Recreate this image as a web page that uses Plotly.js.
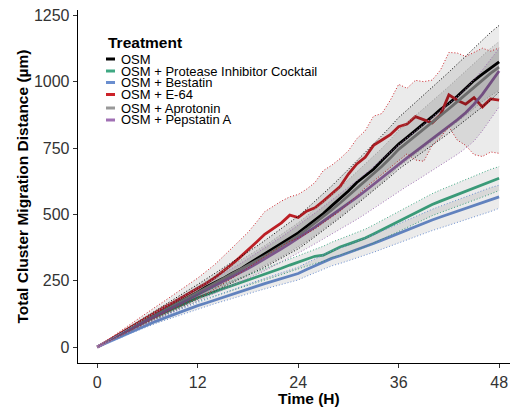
<!DOCTYPE html>
<html>
<head>
<meta charset="utf-8">
<script src="https://cdn.plot.ly/plotly-3.0.1.min.js"></script>
<style>html,body{margin:0;padding:0;background:#fff;}#chart{width:511px;height:408px;}</style>
</head>
<body>
<div id="chart"></div>
<script>
// ---------- data ----------
const hours = [0,1,2,3,4,5,6,7,8,9,10,11,12,13,14,15,16,17,18,19,20,21,22,23,24,25,26,27,28,29,30,31,32,33,34,35,36,37,38,39,40,41,42,43,44,45,46,47,48];
const seriesNames = ["OSM","OSM + Protease Inhibitor Cocktail","OSM + Bestatin","OSM + E-64","OSM + Aprotonin","OSM + Pepstatin A"];

const osm    = [0,17,34,52,70,88,105,122,139,156,173,190,207,226,241,258,276,292,312,331,350,372,390,410,430,455,480,503,532,560,588,620,646,670,703,733,765,790,815,842,868,896,918,945,973,1004,1028,1052,1075];
const osmHi  = [0,20,39,59,79,99,119,138,158,178,197,217,236,256,276,296,316,336,357,379,401,424,447,470,493,521,549,578,607,638,669,701,733,764,797,830,865,893,921,951,980,1008,1036,1066,1097,1127,1158,1186,1212];
const osmLo  = [0,14,29,45,61,77,92,107,121,136,150,165,180,194,209,224,239,254,269,285,301,318,335,352,370,392,415,438,462,487,512,538,564,588,615,642,670,692,714,738,761,783,806,830,855,880,905,930,962];

const pic    = [0,16,30,48,66,84,102,116,130,145,160,174,186,197,208,219,230,241,251,262,274,285,297,309,320,330,342,346,362,377,388,399,411,426,442,457,473,489,505,520,537,550,562,575,588,600,612,624,636];
const picHi  = [0,18,34,53,72,91,110,125,140,156,172,187,200,212,224,236,248,260,271,283,296,308,321,334,346,358,370,380,395,407,419,431,444,460,477,493,510,527,544,560,578,592,605,619,633,646,658,670,680];
const picLo  = [0,14,26,43,60,77,94,107,120,134,148,161,172,182,192,202,212,222,231,241,252,262,273,284,294,305,315,322,336,346,356,366,377,391,406,420,435,450,465,479,495,507,518,530,542,553,565,577,590];

const bes    = [0,14,27,42,57,71,85,97,109,121,133,145,156,166,177,188,198,209,219,229,239,249,258,268,277,292,306,320,334,344,355,366,378,390,403,416,429,441,454,466,479,490,501,512,523,534,545,556,566];
const besHi  = [0,16,30,46,62,77,92,105,118,131,144,157,168,179,191,203,214,226,237,248,259,270,280,291,301,317,332,347,362,373,385,397,410,423,437,451,465,478,492,505,519,531,543,555,567,579,591,601,610];
const besLo  = [0,12,24,38,52,65,78,89,100,111,122,133,144,153,163,173,182,192,201,210,219,228,236,245,253,267,280,293,306,315,325,335,346,357,369,381,393,404,416,427,439,449,459,469,479,489,499,511,523];

const e64    = [0,19,38,56,76,95,114,132,150,167,185,202,220,240,261,285,310,337,365,395,425,445,468,497,488,512,525,550,578,605,652,690,715,760,780,800,830,840,868,855,845,875,950,930,915,940,905,935,930];
const e64Hi  = [0,22,44,66,89,110,131,152,173,194,215,237,260,285,310,340,370,400,432,470,510,530,550,566,575,595,620,665,685,710,740,785,815,870,880,930,990,975,1005,1000,1006,1044,1110,1108,1095,1110,1126,1115,1127];
const e64Lo  = [0,16,32,47,63,80,97,113,128,142,157,171,185,200,218,237,257,277,298,320,342,362,380,398,410,428,445,468,490,512,540,572,600,625,650,675,700,728,705,700,760,790,830,780,760,725,718,735,730];

const apr    = [0,17,34,51,69,86,103,120,137,154,171,188,204,221,238,255,272,289,306,324,342,361,380,400,420,443,467,492,517,543,570,597,624,652,681,712,745,770,795,821,846,872,898,925,952,980,1008,1032,1055];
const aprHi  = [0,19,38,57,77,96,115,134,153,172,191,210,228,247,266,285,304,323,342,362,382,403,424,446,468,493,519,546,573,601,630,659,688,718,749,782,817,844,871,899,926,954,982,1011,1040,1070,1100,1126,1151];
const aprLo  = [0,15,30,46,62,77,92,107,123,138,153,168,182,198,213,228,243,258,274,290,306,323,340,358,377,398,420,443,467,491,516,541,566,593,620,649,680,703,727,751,774,798,822,848,873,899,925,947,968];

const pep    = [0,17,33,50,67,84,101,117,133,149,165,181,197,213,229,245,262,279,296,314,332,351,370,390,410,430,452,474,496,518,540,564,588,613,638,663,690,713,736,760,783,806,830,856,883,915,952,995,1040];
const pepHi  = [0,19,37,56,75,94,113,131,149,167,185,203,221,239,257,275,294,313,333,353,373,394,415,437,459,481,505,529,553,577,601,627,653,680,707,734,763,788,813,839,864,889,915,943,972,1006,1044,1085,1125];
const pepLo  = [0,15,29,44,59,74,89,103,117,131,145,159,173,187,201,215,229,243,258,273,288,304,320,337,354,371,389,407,425,443,461,481,501,522,543,564,587,606,625,645,665,684,704,726,749,776,815,860,905];

const xTicks = [0,12,24,36,48];
const yTicks = [0,250,500,750,1000,1250];

// ---------- styling ----------
const colors = ["#000000","#3fa883","#6a8ecf","#cc2229","#999999","#a070b4"];
const means = [osm,pic,bes,e64,apr,pep];
const his = [osmHi,picHi,besHi,e64Hi,aprHi,pepHi];
const los = [osmLo,picLo,besLo,e64Lo,aprLo,pepLo];
const FONT = "Liberation Sans, Arial, Helvetica, sans-serif";
const DOTS = "1px,2px";

const traces = [];
means.forEach((m,i)=>{
  traces.push({x:hours,y:m,type:"scatter",mode:"lines",name:seriesNames[i],
    line:{color:colors[i],width:2.8},showlegend:false,hoverinfo:"skip"});
});
los.forEach((lo,i)=>{
  traces.push({x:hours,y:lo,type:"scatter",mode:"lines",
    line:{color:colors[i],width:1,dash:DOTS},showlegend:false,hoverinfo:"skip"});
  traces.push({x:hours,y:his[i],type:"scatter",mode:"lines",fill:"tonexty",
    fillcolor:"rgba(0,0,0,0.08)",
    line:{color:colors[i],width:1,dash:DOTS},showlegend:false,hoverinfo:"skip"});
});

// pixel helpers for the hand-drawn legend
const W=511,H=408,ML=78,MR=1,MT=10,MB=45;
const pw=W-ML-MR, ph=H-MT-MB;
const px=x=>(x-ML)/pw, py=y=>(H-MB-y)/ph;

const annotations=[
  {text:"<b>Treatment</b>",x:px(106),y:py(42),xref:"paper",yref:"paper",xanchor:"left",yanchor:"middle",showarrow:false,font:{family:FONT,size:15.5,color:"#000"}},
  {text:"<b>Time (H)</b>",x:px(309),y:py(398),xref:"paper",yref:"paper",xanchor:"center",yanchor:"middle",showarrow:false,font:{family:FONT,size:15.5,color:"#000"}}
];
const legendY=[59,71,82.5,94.5,108,120];
const shapes=[];
seriesNames.forEach((n,i)=>{
  annotations.push({text:n,x:px(119),y:py(legendY[i]),xref:"paper",yref:"paper",xanchor:"left",yanchor:"middle",showarrow:false,font:{family:FONT,size:13,color:"#000"}});
  shapes.push({type:"line",xref:"paper",yref:"paper",x0:px(106),x1:px(115),y0:py(legendY[i]),y1:py(legendY[i]),line:{color:colors[i],width:3}});
});

const layout={
  width:W,height:H,margin:{l:ML,r:MR,t:MT,b:MB},
  paper_bgcolor:"#fff",plot_bgcolor:"#fff",showlegend:false,
  font:{family:FONT,color:"#333"},
  xaxis:{range:[-2.3,49.3],tickvals:xTicks,ticktext:xTicks.map(String),showgrid:false,zeroline:false,
    showline:true,linecolor:"#000",linewidth:1.3,ticks:"outside",ticklen:4,tickcolor:"#333",tickwidth:1,
    tickfont:{family:FONT,size:16,color:"#333"}},
  yaxis:{range:[-60,1270],tickvals:yTicks,ticktext:yTicks.map(String),showgrid:false,zeroline:false,
    showline:true,linecolor:"#000",linewidth:1.3,ticks:"outside",ticklen:4,tickcolor:"#333",tickwidth:1,
    tickfont:{family:FONT,size:16,color:"#333"},
    title:{text:"<b>Total Cluster Migration Distance (µm)</b>",standoff:1,font:{family:FONT,size:15.5,color:"#000"}}},
  annotations:annotations,shapes:shapes
};
Plotly.newPlot("chart",traces,layout,{staticPlot:true,displayModeBar:false});
</script>
</body>
</html>
